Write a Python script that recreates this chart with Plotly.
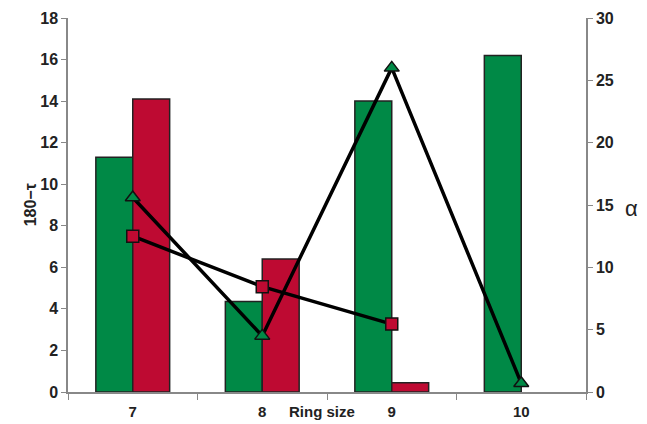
import plotly.graph_objects as go

ring_sizes = ["7", "8", "9", "10"]
tau_green = [11.3, 4.35, 14.0, 16.2]
tau_red = [14.1, 6.4, 0.45, None]
alpha_triangle = [15.6, 4.5, 26.0, 0.7]
alpha_square = [12.5, 8.45, 5.45, None]

green = "rgb(0,137,70)"
red = "rgb(190,10,50)"
FAM = "Liberation Sans, Arial"

fig = go.Figure()
fig.add_trace(go.Bar(x=ring_sizes, y=tau_green, marker=dict(color=green, line=dict(color="#222", width=1.5)), yaxis="y"))
fig.add_trace(go.Bar(x=ring_sizes, y=tau_red, marker=dict(color=red, line=dict(color="#222", width=1.5)), yaxis="y"))
fig.add_trace(go.Scatter(x=ring_sizes, y=alpha_triangle, yaxis="y2", mode="lines+markers",
                         line=dict(color="black", width=3.5),
                         marker=dict(symbol="triangle-up", size=13, color=green, line=dict(color="#111", width=1.5))))
fig.add_trace(go.Scatter(x=ring_sizes, y=alpha_square, yaxis="y2", mode="lines+markers", connectgaps=False,
                         line=dict(color="black", width=3.5),
                         marker=dict(symbol="square", size=12, color=red, line=dict(color="#111", width=1.5))))

tickfont = dict(family=FAM, size=16, color="#222", weight="bold")
fig.update_layout(
    width=639, height=416,
    margin=dict(l=60, r=61, t=10, b=32, autoexpand=False),
    plot_bgcolor="white", paper_bgcolor="white",
    showlegend=False,
    barmode="group", bargap=0.43, bargroupgap=0,
    font=dict(family=FAM, size=14, color="#222"),
    xaxis=dict(type="category", tickson="boundaries", ticks="outside", ticklen=6, tickcolor="#888",
               showline=True, linecolor="#888", linewidth=1.5, showgrid=False, automargin=False,
               ticklabelstandoff=5,
               tickfont=dict(family=FAM, size=15, color="#222", weight="bold")),
    yaxis=dict(range=[0, 18], dtick=2, ticks="outside", ticklen=5, tickcolor="#888", automargin=False,
               showline=True, linecolor="#888", linewidth=1.5, showgrid=False, zeroline=False,
               tickfont=tickfont),
    yaxis2=dict(range=[0, 30], dtick=5, overlaying="y", side="right", ticks="outside", ticklen=5, tickcolor="#888",
                showline=True, linecolor="#888", linewidth=1.5, showgrid=False, zeroline=False, automargin=False,
                tickfont=tickfont),
    annotations=[
        dict(text="Ring size", xref="paper", yref="paper", x=0.49, y=-0.025, yanchor="top", showarrow=False,
             font=dict(family=FAM, size=15, color="#222", weight="bold")),
        dict(text="180\u2212\u03c4", xref="paper", yref="paper", x=-0.093, y=0.5, textangle=-90, showarrow=False,
             font=dict(family=FAM, size=16, color="#222", weight="bold")),
        dict(text="\u03b1", xref="paper", yref="paper", x=1.104, y=0.49, showarrow=False,
             font=dict(family=FAM, size=22, color="#222")),
    ],
)

fig.write_html("out.html")
